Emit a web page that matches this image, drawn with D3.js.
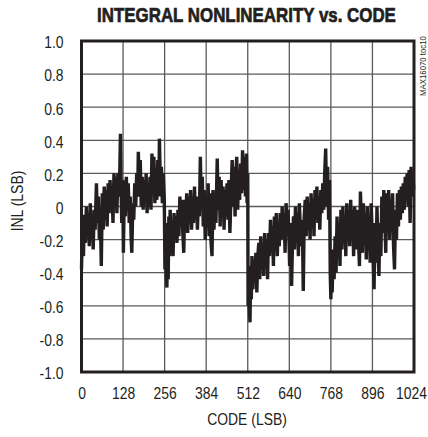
<!DOCTYPE html>
<html><head><meta charset="utf-8">
<script src="https://cdn.jsdelivr.net/npm/d3@7"></script>
<style>
html,body{margin:0;padding:0;background:#fff;}
svg{display:block;}
text{font-family:"Liberation Sans",Arial,sans-serif;fill:#231f20;}
</style></head>
<body>
<svg id="chart" width="428" height="437"></svg>
<script>
const title = "INTEGRAL NONLINEARITY vs. CODE";
const xLabel = "CODE (LSB)";
const yLabel = "INL (LSB)";
const tocLabel = "MAX16070 toc10";
const xTicks = [0,128,256,384,512,640,768,896,1024];
const yTicks = [-1.0,-0.8,-0.6,-0.4,-0.2,0,0.2,0.4,0.6,0.8,1.0];
const yTickLabels = ["-1.0","-0.8","-0.6","-0.4","-0.2","0","0.2","0.4","0.6","0.8","1.0"];

const codes = [0,3,6,9,12,15,18,21,24,27,30,33,36,39,42,46,49,52,55,58,61,64,67,70,73,76,79,82,85,88,91,94,97,100,103,106,109,112,115,118,120,122,124,127,129,132,135,138,141,144,147,150,153,155,158,161,164,167,170,173,175,178,181,184,187,190,193,196,199,202,205,208,211,214,217,220,223,226,229,232,235,238,240,243,246,249,252,255,
257,259,261,263,265,267,269,271,273,276,279,282,285,288,291,294,297,300,303,306,309,312,315,318,321,324,327,330,333,336,339,342,345,348,351,354,357,360,363,366,369,372,375,378,381,384,387,390,393,396,399,402,405,408,411,414,418,421,424,427,430,433,436,439,442,445,448,451,454,457,460,464,467,470,473,476,478,481,484,487,490,493,496,499,502,505,508,510,512,
513,515,517,519,521,523,525,528,531,534,537,540,543,546,549,552,555,558,561,564,567,570,573,576,579,582,585,588,591,594,597,600,603,606,609,612,615,618,621,624,627,630,633,636,639,641,644,647,650,653,656,659,662,665,668,671,674,677,680,683,686,689,692,695,698,701,704,707,710,713,716,719,722,725,728,731,734,737,740,743,746,749,752,755,758,761,764,
766,768,770,772,775,778,781,784,787,790,793,796,799,802,805,808,811,814,817,820,823,826,829,832,835,838,841,844,847,850,853,856,859,862,865,868,871,874,877,880,883,886,889,892,895,898,901,904,907,910,913,916,919,922,925,928,931,934,937,940,943,946,949,952,955,958,961,964,967,970,973,976,979,982,985,988,991,994,997,1000,1003,1006,1009,1012,1015,1018,1021,1023];

const inl = [-0.38,-0.10,-0.30,-0.05,-0.22,0.00,-0.18,-0.08,-0.24,0.02,-0.16,-0.06,-0.26,-0.02,-0.14,0.14,-0.10,0.06,-0.20,-0.06,-0.36,0.08,-0.14,0.12,-0.08,0.10,-0.12,0.14,-0.04,0.16,-0.02,0.10,-0.10,0.20,0.04,0.18,-0.04,0.20,0.06,0.22,0.44,0.10,-0.10,0.16,-0.28,0.10,-0.06,0.18,0.02,0.14,-0.10,0.06,-0.20,-0.28,0.02,-0.08,0.14,0.00,0.20,0.06,0.33,0.08,0.28,0.00,0.18,-0.02,0.16,0.02,0.20,-0.04,0.14,0.00,0.18,-0.02,0.32,0.10,0.30,0.02,0.22,0.04,0.28,0.06,0.41,0.10,0.24,0.02,0.20,0.04,
-0.38,-0.10,-0.40,-0.49,-0.20,-0.44,-0.06,-0.30,-0.02,-0.24,-0.10,-0.30,-0.04,-0.20,-0.06,-0.22,-0.02,-0.18,0.06,-0.12,0.04,-0.16,-0.28,0.04,-0.10,0.08,-0.16,0.06,-0.08,0.10,-0.14,0.02,-0.10,0.12,-0.08,0.06,-0.14,0.04,-0.06,0.30,-0.02,0.18,-0.12,0.10,-0.20,0.06,-0.10,0.14,-0.18,0.08,-0.22,-0.30,0.10,-0.14,0.06,-0.10,0.29,-0.02,0.18,-0.12,0.16,-0.06,0.12,-0.14,0.10,-0.04,0.14,-0.08,0.16,-0.16,0.04,0.28,0.00,0.24,-0.06,0.22,0.30,-0.02,0.20,0.04,0.26,0.08,0.34,0.10,0.30,0.06,0.32,0.02,0.20,
-0.60,-0.40,-0.62,-0.70,-0.36,-0.56,-0.30,-0.50,-0.32,-0.46,-0.28,-0.52,-0.30,-0.22,-0.44,-0.18,-0.38,-0.24,-0.42,-0.16,-0.34,-0.20,-0.44,-0.16,-0.30,-0.08,-0.26,-0.12,-0.36,-0.06,-0.22,-0.04,-0.30,-0.10,-0.24,-0.04,-0.20,0.00,-0.18,-0.06,-0.28,0.02,-0.12,-0.02,-0.20,-0.36,-0.10,-0.48,-0.20,-0.06,-0.26,0.00,-0.18,-0.04,-0.30,0.02,-0.14,-0.24,-0.08,-0.51,-0.06,0.04,-0.18,0.06,-0.14,0.02,-0.20,0.08,-0.10,0.04,-0.18,0.10,-0.06,0.12,-0.10,0.06,-0.14,0.10,-0.04,0.14,-0.02,0.20,0.35,0.00,0.24,-0.08,0.16,
-0.40,-0.56,-0.30,-0.52,-0.26,-0.44,-0.18,-0.40,-0.06,-0.30,-0.10,-0.36,-0.02,-0.26,0.00,-0.22,-0.06,-0.30,0.02,-0.16,-0.04,-0.24,0.04,-0.18,-0.02,-0.30,0.00,-0.14,-0.26,-0.02,-0.20,-0.36,0.09,-0.10,-0.28,0.02,-0.20,-0.04,-0.32,0.00,-0.22,-0.08,-0.34,0.02,-0.16,-0.30,-0.50,-0.10,-0.34,0.00,-0.24,-0.42,-0.10,-0.30,0.06,-0.16,0.10,-0.08,-0.28,0.08,-0.12,0.10,-0.20,0.04,-0.10,0.08,-0.24,-0.38,-0.02,-0.20,0.08,-0.12,0.10,-0.08,0.12,-0.04,0.14,-0.02,0.18,0.04,0.20,0.00,0.22,-0.10,0.24,0.06,0.20,0.10];

const data = codes.map((c,i)=>({code:c, v:inl[i]}));

const svg = d3.select("#chart");
const L = 81.5, R = 414, T = 41, B = 372;
const x = d3.scaleLinear().domain([0,1024]).range([L,R]);
const y = d3.scaleLinear().domain([-1,1]).range([B,T]);
const ink = "#231f20";
const NX = 0.82;

// grid
const grid = svg.append("g");
grid.selectAll("line.v").data(xTicks.slice(1,-1)).join("line")
  .attr("x1",d=>x(d)).attr("x2",d=>x(d)).attr("y1",T).attr("y2",B)
  .attr("stroke","#5a5a5a").attr("stroke-width",1.3);
grid.selectAll("line.h").data(yTicks.slice(1,-1)).join("line")
  .attr("y1",d=>y(d)).attr("y2",d=>y(d)).attr("x1",L).attr("x2",R)
  .attr("stroke","#5a5a5a").attr("stroke-width",1.3);

// data trace
const line = d3.line().x(d=>x(d.code)).y(d=>y(d.v));
svg.append("path").datum(data).attr("d",line)
  .attr("fill","none").attr("stroke",ink).attr("stroke-width",3.4)
  .attr("stroke-linejoin","miter").attr("stroke-miterlimit",3);

// frame
svg.append("rect").attr("x",L).attr("y",T).attr("width",R-L).attr("height",B-T)
  .attr("fill","none").attr("stroke",ink).attr("stroke-width",3);

// axes (labels only), condensed via horizontal scaling
const yAxis = d3.axisLeft(y).tickValues(yTicks).tickFormat((d,i)=>yTickLabels[i]).tickSize(0).tickPadding(18);
const ga = svg.append("g").attr("transform",`translate(${L},0)`).call(yAxis);
ga.select(".domain").remove();
ga.selectAll("text").attr("font-size",17).attr("fill",ink).attr("dy","0.4em")
  .attr("x",-18/NX).attr("transform",`scale(${NX},1)`)
  .style("font-family",'"Liberation Sans",Arial,sans-serif');

const xAxis = d3.axisBottom(x).tickValues(xTicks).tickFormat(d3.format("d")).tickSize(0).tickPadding(15);
const gx = svg.append("g").attr("transform",`translate(0,${B})`).call(xAxis);
gx.select(".domain").remove();
gx.selectAll("text").attr("font-size",17).attr("fill",ink)
  .attr("transform",`scale(${NX},1)`)
  .style("font-family",'"Liberation Sans",Arial,sans-serif');
gx.selectAll("text").filter(d=>d===1024).attr("x",-3/NX);

// titles
const tt = svg.append("text").attr("text-anchor","middle")
  .attr("font-size",21).attr("font-weight","bold")
  .attr("stroke",ink).attr("stroke-width",0.7)
  .text(title);
const tw = tt.node().getComputedTextLength();
tt.attr("transform",`translate(246.5,22) scale(${299/tw},1)`);

svg.append("text").attr("transform",`translate(247,425) scale(${NX},1)`).attr("text-anchor","middle")
  .attr("font-size",17).text(xLabel);
svg.append("text").attr("transform",`translate(23,201) rotate(-90) scale(${NX},1)`).attr("text-anchor","middle")
  .attr("font-size",17).text(yLabel);
const tc = svg.append("text").attr("text-anchor","middle").attr("font-size",9.5).text(tocLabel);
const tcw = tc.node().getComputedTextLength();
tc.attr("transform",`translate(426,66) rotate(-90) scale(${60/tcw},1)`);
</script>
</body></html>
